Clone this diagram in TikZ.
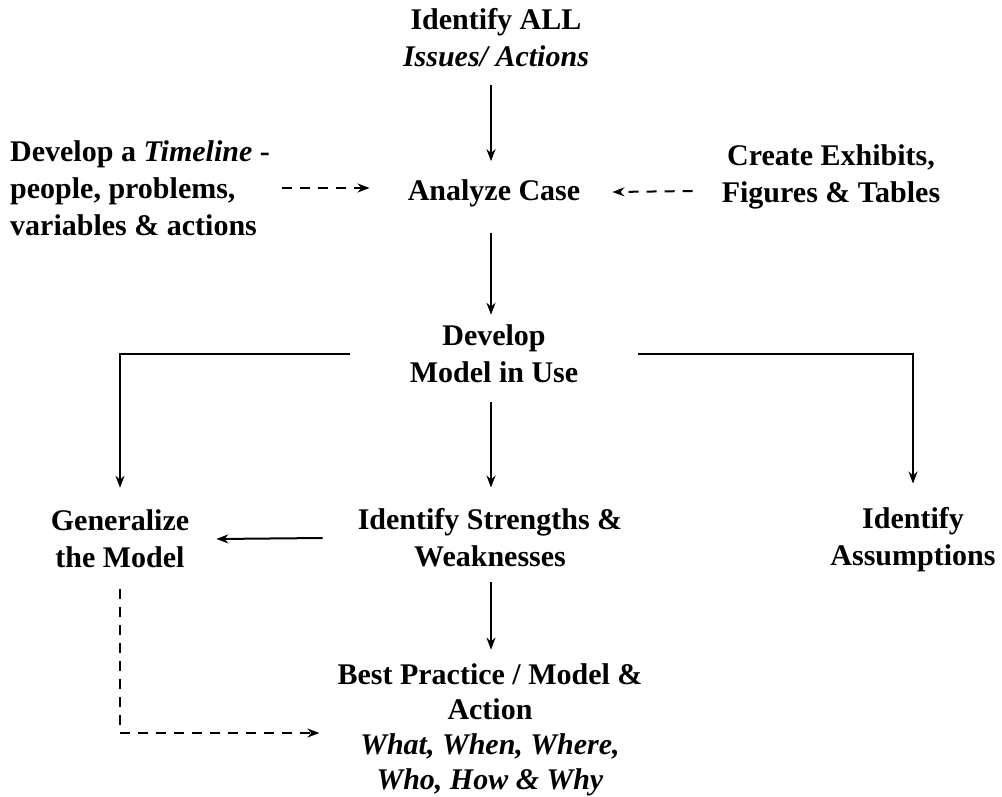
\documentclass[tikz,border=0pt]{standalone}
\usepackage{fontspec}
\setmainfont{Liberation Serif}
\usetikzlibrary{arrows.meta}
\begin{document}
\begin{tikzpicture}[x=1pt,y=-1pt,
  txt/.style={font=\fontsize{30}{37}\selectfont\bfseries, align=center, inner sep=0pt},
  arr/.style={line width=2pt, -{Stealth[length=12pt,width=9pt]}},
  dsh/.style={line width=2pt, dash pattern=on 10pt off 8pt, -{Stealth[length=12pt,width=9pt]}}]
\useasboundingbox (0,0) rectangle (1002,796);
\coordinate (ax) at (491,0);
\node[txt] (top) at (496,38) {Identify ALL\\\textit{Issues/ Actions}};
\node[txt] (analyze) at (494,193) {Analyze Case};
\node[txt, align=left, anchor=west] (timeline) at (10,188) {Develop a \textit{Timeline} -\\people, problems,\\variables \& actions};
\node[txt] (exhibits) at (831,177) {Create Exhibits,\\Figures \& Tables};
\node[txt] (model) at (494,354) {Develop\\Model in Use};
\node[txt] (gen) at (120,539) {Generalize\\the Model};
\node[txt] (sw) at (490,538) {Identify Strengths \&\\Weaknesses};
\node[txt] (assume) at (913,540) {Identify\\Assumptions};
\node[txt, font=\fontsize{30}{35}\selectfont\bfseries] (best) at (490,730) {Best Practice / Model \&\\Action\\\textit{What, When, Where,}\\\textit{Who, How \& Why}};
\draw[arr] ([yshift=-18pt]top.south -| ax) -- ([yshift=18pt]analyze.north -| ax);
\draw[arr] ([yshift=-26pt]analyze.south -| ax) -- ([yshift=10pt]model.north -| ax);
\draw[arr] ([yshift=-19pt]model.south -| ax) -- ([yshift=21pt]sw.north -| ax);
\draw[arr] ([yshift=-15pt]sw.south -| ax) -- ([yshift=14pt]best.north -| ax);
\draw[arr] ([xshift=-60pt]model.west) -| ([yshift=22pt]gen.north);
\draw[arr] ([xshift=60pt]model.east) -| ([yshift=24pt]assume.north);
\draw[arr] ([xshift=-35pt]sw.west) -- ([xshift=27pt]gen.east);
\draw[dsh] ([xshift=12pt]timeline.east) -- ([xshift=-38pt]analyze.west |- timeline.east);
\draw[dsh] ([xshift=-29pt,yshift=-14pt]exhibits.west) -- ([xshift=32pt,yshift=1pt]analyze.east);
\draw[dsh] ([yshift=-21pt]gen.south) |- ([xshift=-18pt,yshift=-3pt]best.west);
\end{tikzpicture}
\end{document}
